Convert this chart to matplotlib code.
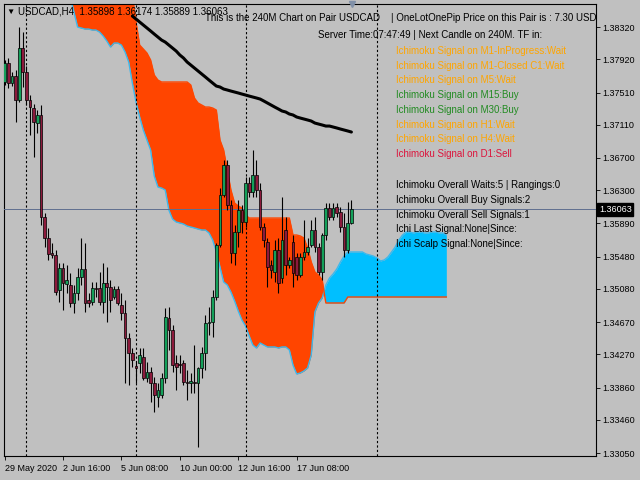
import matplotlib
matplotlib.use("Agg")
import matplotlib.pyplot as plt
from matplotlib.patches import Rectangle
from matplotlib.transforms import blended_transform_factory
import numpy as np

# H4 candles, bar 0 = 29 May 2020 00:00
opens = [1.37640, 1.37875, 1.37627, 1.37714, 1.37417, 1.38060, 1.37763, 1.37417, 1.37318, 1.37133,
         1.37231, 1.35970, 1.35710, 1.35524, 1.35500, 1.35067, 1.35339, 1.35141, 1.35129, 1.34906,
         1.35030, 1.35228, 1.35327, 1.34943, 1.34918, 1.35091, 1.35091, 1.34918, 1.35153, 1.35104,
         1.34980, 1.35079, 1.34881, 1.34782, 1.34473, 1.34287, 1.34127, 1.34164, 1.34238, 1.33978,
         1.34052, 1.33916, 1.33743, 1.33768, 1.33978, 1.34720, 1.34572, 1.34164, 1.34151, 1.34164,
         1.33929, 1.33916, 1.33929, 1.33916, 1.34102, 1.34287, 1.34659, 1.34671, 1.34980, 1.35623,
         1.36242, 1.36613, 1.36118, 1.35524, 1.35784, 1.36056, 1.35908, 1.36390, 1.36279, 1.36489,
         1.36304, 1.35846, 1.35661, 1.35376, 1.35289, 1.35562, 1.35215, 1.35809, 1.35376, 1.35661,
         1.35475, 1.35252, 1.35475, 1.35537, 1.35623, 1.35809, 1.35599, 1.35289, 1.35747, 1.36081,
         1.35970, 1.36093, 1.36032, 1.35846, 1.35562, 1.35898]
highs = [1.37912, 1.37937, 1.37763, 1.37788, 1.38320, 1.38258, 1.37838, 1.37479, 1.37368, 1.37293,
         1.37355, 1.36019, 1.35834, 1.35648, 1.35562, 1.35401, 1.35401, 1.35376, 1.35277, 1.35129,
         1.35339, 1.35710, 1.35648, 1.35030, 1.35166, 1.35166, 1.35289, 1.35401, 1.35351, 1.35190,
         1.35116, 1.35116, 1.35030, 1.34943, 1.34535, 1.34349, 1.34176, 1.34349, 1.34349, 1.34176,
         1.34114, 1.33991, 1.33916, 1.34040, 1.34844, 1.34856, 1.34634, 1.34263, 1.34263, 1.34201,
         1.34077, 1.34040, 1.34386, 1.34114, 1.34362, 1.34757, 1.34856, 1.35067, 1.35648, 1.36328,
         1.36675, 1.36675, 1.36180, 1.35871, 1.36180, 1.36118, 1.36465, 1.36465, 1.36799, 1.36675,
         1.36390, 1.35896, 1.35710, 1.35438, 1.35685, 1.35710, 1.36217, 1.35970, 1.35475, 1.35747,
         1.35524, 1.35524, 1.35933, 1.35710, 1.35933, 1.35970, 1.35648, 1.35772, 1.36143, 1.36143,
         1.36143, 1.36143, 1.36093, 1.36019, 1.36155, 1.36174]
lows = [1.37603, 1.37565, 1.37590, 1.37145, 1.37392, 1.37578, 1.37355, 1.36984, 1.36712, 1.37009,
        1.35871, 1.35599, 1.35438, 1.35463, 1.35005, 1.34918, 1.34819, 1.35030, 1.34856, 1.34782,
        1.34943, 1.35129, 1.34795, 1.34856, 1.34881, 1.34980, 1.34881, 1.34782, 1.34671, 1.34795,
        1.34955, 1.34881, 1.34696, 1.33916, 1.33892, 1.34114, 1.33916, 1.34040, 1.33953, 1.33929,
        1.33681, 1.33558, 1.33619, 1.33731, 1.33916, 1.34325, 1.34052, 1.33830, 1.34040, 1.33892,
        1.33706, 1.33793, 1.33793, 1.33125, 1.33978, 1.34077, 1.34510, 1.34485, 1.34943, 1.35599,
        1.36217, 1.36056, 1.35401, 1.35376, 1.35599, 1.35772, 1.35846, 1.36217, 1.36217, 1.36217,
        1.35809, 1.35599, 1.35104, 1.35215, 1.35166, 1.35030, 1.35153, 1.35252, 1.35339, 1.35104,
        1.35190, 1.35228, 1.35438, 1.35500, 1.35599, 1.35537, 1.35252, 1.35190, 1.35685, 1.35933,
        1.35933, 1.35970, 1.35784, 1.35475, 1.35524, 1.35889]
closes = [1.37875, 1.37627, 1.37714, 1.37417, 1.38060, 1.37763, 1.37417, 1.37330, 1.37145, 1.37231,
          1.35970, 1.35710, 1.35512, 1.35500, 1.35042, 1.35339, 1.35153, 1.35190, 1.34906, 1.35030,
          1.35228, 1.35327, 1.34906, 1.34906, 1.35091, 1.35079, 1.34918, 1.35153, 1.35104, 1.34943,
          1.35079, 1.34906, 1.34782, 1.34473, 1.34287, 1.34201, 1.34102, 1.34263, 1.33978, 1.34052,
          1.33916, 1.33768, 1.33830, 1.33978, 1.34733, 1.34572, 1.34139, 1.34114, 1.34139, 1.33929,
          1.33916, 1.33941, 1.33916, 1.34102, 1.34287, 1.34659, 1.34671, 1.34980, 1.35623, 1.36242,
          1.36613, 1.36118, 1.35524, 1.35784, 1.36056, 1.35908, 1.36390, 1.36279, 1.36489, 1.36304,
          1.35846, 1.35685, 1.35351, 1.35314, 1.35562, 1.35153, 1.35685, 1.35376, 1.35438, 1.35277,
          1.35252, 1.35475, 1.35537, 1.35599, 1.35809, 1.35599, 1.35289, 1.35747, 1.36081, 1.35970,
          1.36081, 1.36019, 1.35846, 1.35562, 1.35896, 1.36063]

# Ichimoku spans (already shifted 26 bars forward), starting at bar 17
cloud_start = 17
span_a = [1.38840, 1.38691, 1.38506, 1.38320, 1.38308, 1.38295, 1.38295, 1.38283, 1.38283, 1.38258,
          1.38209, 1.38147, 1.38073, 1.38122, 1.38122, 1.38097, 1.38011, 1.37887, 1.37627, 1.37392,
          1.37207, 1.37046, 1.36922, 1.36799, 1.36477, 1.36341, 1.36328, 1.36304, 1.36056, 1.35945,
          1.35908, 1.35896, 1.35883, 1.35858, 1.35846, 1.35834, 1.35821, 1.35809, 1.35809, 1.35772,
          1.35685, 1.35537, 1.35351, 1.35166, 1.35129, 1.35042, 1.34931, 1.34807, 1.34696, 1.34621,
          1.34498, 1.34386, 1.34349, 1.34411, 1.34386, 1.34362, 1.34362, 1.34362, 1.34349, 1.34362,
          1.34362, 1.34325, 1.34139, 1.34028, 1.34040, 1.34065, 1.34102, 1.34263, 1.34795, 1.34906,
          1.34968, 1.35129, 1.35215, 1.35265, 1.35327, 1.35413, 1.35487, 1.35537, 1.35537, 1.35537,
          1.35537, 1.35537, 1.35512, 1.35500, 1.35487, 1.35463, 1.35426, 1.35438, 1.35475, 1.35537,
          1.35599, 1.35685, 1.35747, 1.35784, 1.35784, 1.35772, 1.35784, 1.35784, 1.35772, 1.35772,
          1.35784, 1.35784, 1.35772, 1.35772, 1.35747]
span_b = [1.39025, 1.39025, 1.39025, 1.39025, 1.39025, 1.39025, 1.39025, 1.39025, 1.39025, 1.39025,
          1.39025, 1.39025, 1.39025, 1.39025, 1.39025, 1.39025, 1.39025, 1.39025, 1.38716, 1.38382,
          1.38097, 1.38048, 1.37998, 1.37912, 1.37726, 1.37664, 1.37640, 1.37640, 1.37640, 1.37640,
          1.37640, 1.37640, 1.37640, 1.37640, 1.37603, 1.37442, 1.37380, 1.37355, 1.37330, 1.37330,
          1.37318, 1.37293, 1.36922, 1.36799, 1.36551, 1.36304, 1.36143, 1.36106, 1.36081, 1.35994,
          1.35957, 1.35957, 1.35957, 1.35957, 1.35957, 1.35957, 1.35957, 1.35957, 1.35957, 1.35957,
          1.35957, 1.35957, 1.35747, 1.35747, 1.35735, 1.35710, 1.35586, 1.35413, 1.35289, 1.35252,
          1.35190, 1.34906, 1.34906, 1.34906, 1.34906, 1.34906, 1.34906, 1.34980, 1.34980, 1.34980,
          1.34980, 1.34980, 1.34980, 1.34980, 1.34980, 1.34980, 1.34980, 1.34980, 1.34980, 1.34980,
          1.34980, 1.34980, 1.34980, 1.34980, 1.34980, 1.34980, 1.34980, 1.34980, 1.34980, 1.34980,
          1.34980, 1.34980, 1.34980, 1.34980, 1.34980]

# black moving average, starting at bar 35
ma_start = 35
ma_values = [1.38456, 1.38419, 1.38382, 1.38345, 1.38308, 1.38271,
             1.38233, 1.38196, 1.38159, 1.38134, 1.38097, 1.38060, 1.38023, 1.37974, 1.37937, 1.37887,
             1.37850, 1.37813, 1.37776, 1.37739, 1.37702, 1.37664, 1.37627, 1.37590, 1.37578, 1.37553,
             1.37541, 1.37528, 1.37516, 1.37504, 1.37491, 1.37479, 1.37466, 1.37454, 1.37442, 1.37429,
             1.37405, 1.37380, 1.37355, 1.37330, 1.37306, 1.37281, 1.37269, 1.37244, 1.37232, 1.37207,
             1.37194, 1.37182, 1.37170, 1.37157, 1.37132, 1.37120, 1.37108, 1.37095, 1.37095, 1.37083,
             1.37071, 1.37058, 1.37046, 1.37034, 1.37021]

separator_bars = [6, 36, 66, 102]
date_tick_bars = [0, 16, 32, 48, 64, 80]
date_tick_labels = ["29 May 2020", "2 Jun 16:00", "5 Jun 08:00", "10 Jun 00:00",
                    "12 Jun 16:00", "17 Jun 08:00"]
price_ticks = [1.38320, 1.37920, 1.37510, 1.37110, 1.36700, 1.36300, 1.35890,
               1.35480, 1.35080, 1.34670, 1.34270, 1.33860, 1.33460, 1.33050]
last_price = 1.36063

header = "USDCAD,H4  1.35898 1.36174 1.35889 1.36063"
signal_lines = [
    ("Ichimoku Signal on M1-InProgress:Wait", "#FFA500"),
    ("Ichimoku Signal on M1-Closed C1:Wait", "#FFA500"),
    ("Ichimoku Signal on M5:Wait", "#FFA500"),
    ("Ichimoku Signal on M15:Buy", "#228B22"),
    ("Ichimoku Signal on M30:Buy", "#228B22"),
    ("Ichimoku Signal on H1:Wait", "#FFA500"),
    ("Ichimoku Signal on H4:Wait", "#FFA500"),
    ("Ichimoku Signal on D1:Sell", "#DC143C"),
]
summary_lines = [
    "Ichimoku Overall Waits:5 | Rangings:0",
    "Ichimoku Overall Buy Signals:2",
    "Ichimoku Overall Sell Signals:1",
    "Ichi Last Signal:None|Since:",
    "Ichi Scalp Signal:None|Since:",
]

BG = "#C0C0C0"
FONT = ["Liberation Sans", "DejaVu Sans"]
W, H = 640, 480


def fpos(x, y):
    # pixel position -> figure fraction
    return x / W, 1 - y / H


fig = plt.figure(figsize=(6.4, 4.8), dpi=100, facecolor=BG)
ax = fig.add_axes([4 / W, 24 / H, 592 / W, 452 / H])
ax.set_facecolor(BG)

# cloud
cx = np.arange(cloud_start, cloud_start + len(span_a))
sa = np.array(span_a)
sb = np.array(span_b)
ax.fill_between(cx, sa, sb, where=sb >= sa, interpolate=True, color="#FF4500", lw=0, zorder=1)
ax.fill_between(cx, sa, sb, where=sa >= sb, interpolate=True, color="#00BFFF", lw=0, zorder=1)
ax.plot(cx, sa, color="#3CB8EC", lw=1.0, zorder=2)
ax.plot(cx, sb, color="#FF4500", lw=1.0, zorder=2)

# moving average
mx = np.arange(ma_start, ma_start + len(ma_values))
ax.plot(mx, ma_values, color="black", lw=2.2, zorder=3, solid_capstyle="round")

# separators and price line
for b in separator_bars:
    ax.axvline(b, color="black", lw=0.8, ls=(0, (2, 2)), zorder=3)
ax.axhline(last_price, color="#5F6F8F", lw=0.7, zorder=3)

# candles
bx = np.arange(len(opens))
ax.vlines(bx, lows, highs, colors="black", lw=0.8, zorder=4)
bw = 0.74
for i in bx:
    o, c = opens[i], closes[i]
    bottom = min(o, c)
    height = abs(c - o)
    if height < 0.00004:
        ax.hlines(c, i - bw / 2, i + bw / 2, colors="black", lw=0.9, zorder=5)
        continue
    color = "#14A05A" if c > o else "#8C1A3C"
    ax.add_patch(Rectangle((i - bw / 2, bottom), bw, height, facecolor=color,
                           edgecolor="black", lw=0.5, zorder=5))

ax.set_xlim(-0.16, 162.0)
ax.set_ylim(1.33013, 1.38605)

for s in ax.spines.values():
    s.set_color("black")
    s.set_linewidth(0.8)

ax.yaxis.tick_right()
ax.set_yticks(price_ticks)
ax.set_yticklabels([f"{p:.5f}" for p in price_ticks], family=FONT, fontsize=6.5)
ax.set_xticks(date_tick_bars)
ax.set_xticklabels(date_tick_labels, family=FONT, fontsize=6.5, ha="left")
ax.tick_params(axis="both", direction="out", length=3, width=0.6, colors="black", pad=1.5)
ax.tick_params(axis="x", pad=2.5)

# current price box on the price scale
trans = blended_transform_factory(ax.transAxes, ax.transData)
ax.text(1.005, last_price, f"{last_price:.5f}", transform=trans, color="white",
        fontsize=6.5, family=FONT, va="center", ha="left", zorder=10,
        bbox=dict(facecolor="black", edgecolor="black", pad=1.2))

# chart shift marker
ax.plot([95.3], [1.0], transform=blended_transform_factory(ax.transData, ax.transAxes),
        marker="v", color="#8090A8", ms=4, clip_on=False, zorder=10)

# header
fig.text(*fpos(6, 12), "\u25bc", fontsize=6, family=FONT, va="center", ha="left")
fig.text(*fpos(18, 12), header, fontsize=7, family=FONT, va="center", ha="left")

# indicator texts
fig.text(*fpos(205, 18), "This is the 240M Chart on Pair USDCAD", fontsize=7,
         family=FONT, va="center", ha="left")
fig.text(*fpos(391, 18), "| OneLotOnePip Price on this Pair is : 7.30 USD", fontsize=7,
         family=FONT, va="center", ha="left")
fig.text(*fpos(318, 35), "Server Time:07:47:49 | Next Candle on 240M. TF in:", fontsize=7,
         family=FONT, va="center", ha="left")
for k, (txt, col) in enumerate(signal_lines):
    fig.text(*fpos(396, 51 + 14.7 * k), txt, fontsize=7, family=FONT, color=col,
             va="center", ha="left")
for k, txt in enumerate(summary_lines):
    fig.text(*fpos(396, 185 + 14.8 * k), txt, fontsize=7, family=FONT, color="black",
             va="center", ha="left")

fig.savefig("out.png", dpi=100, facecolor=BG)
